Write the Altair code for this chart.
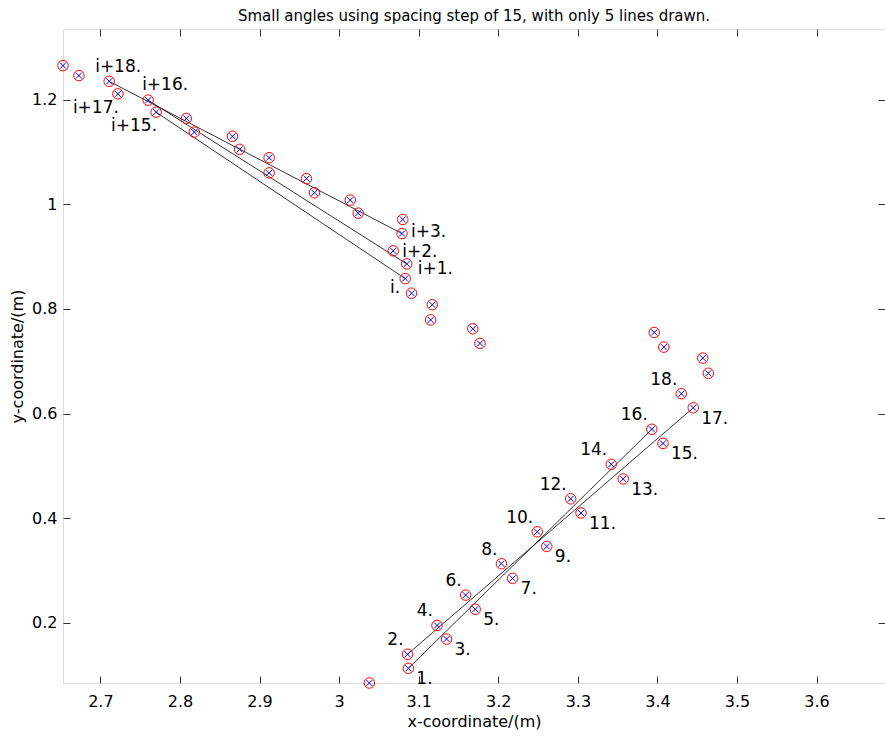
import altair as alt
import pandas as pd

# ---- data ----
px = [2.653, 2.673, 2.711, 2.722, 2.760, 2.770, 2.808, 2.818, 2.866, 2.875,
      2.912, 2.912, 2.959, 2.969, 3.014, 3.024, 3.080, 3.079, 3.068, 3.085,
      3.083, 3.091, 3.117, 3.115, 3.168, 3.177,
      3.038, 3.087, 3.086, 3.135, 3.123, 3.171, 3.159, 3.218, 3.204, 3.261,
      3.249, 3.304, 3.291, 3.357, 3.342, 3.407, 3.393, 3.445, 3.430,
      3.396, 3.408, 3.457, 3.464]
py = [1.265, 1.246, 1.235, 1.211, 1.199, 1.176, 1.164, 1.138, 1.130, 1.105,
      1.089, 1.060, 1.049, 1.022, 1.008, 0.983, 0.971, 0.944, 0.911, 0.886,
      0.858, 0.830, 0.808, 0.779, 0.762, 0.734,
      0.085, 0.113, 0.140, 0.169, 0.195, 0.226, 0.253, 0.285, 0.313, 0.346,
      0.374, 0.410, 0.437, 0.475, 0.503, 0.543, 0.570, 0.611, 0.638,
      0.755, 0.727, 0.706, 0.677]

seg_start = [2, 4, 5, 27, 28]
seg_end = [17, 19, 20, 42, 43]

label_text = ["i+18.", "i+17.", "i+16.", "i+15.", "i+3.", "i+2.", "i+1.", "i.",
              "1.", "2.", "3.", "4.", "5.", "6.", "7.", "8.", "9.",
              "10.", "11.", "12.", "13.", "14.", "15.", "16.", "17.", "18."]
label_point = [2, 3, 4, 5, 17, 18, 19, 20,
               27, 28, 29, 30, 31, 32, 33, 34, 35,
               36, 37, 38, 39, 40, 41, 42, 43, 44]
label_place = ["A", "C", "B", "C", "D", "D2", "E", "F",
               "H", "G", "H", "G", "H", "G", "H", "G", "H",
               "G", "H", "G", "H", "G", "H", "G", "H", "G"]

x_ticks = [2.7, 2.8, 2.9, 3.0, 3.1, 3.2, 3.3, 3.4, 3.5, 3.6]
y_ticks = [0.2, 0.4, 0.6, 0.8, 1.0, 1.2]
x_domain = [2.653, 3.686]
y_domain = [0.085, 1.335]

title_text = "Small angles using spacing step of 15, with only 5 lines drawn."
x_title = "x-coordinate/(m)"
y_title = "y-coordinate/(m)"

# ---- styles ----
FONT = "DejaVu Sans"
FRAME = "#333333"
PLACE = {
    "A": ("left", -14, -14),
    "B": ("left", -6, -15),
    "C": ("right", 1, 14),
    "D": ("left", 9, -2),
    "D2": ("left", 9, 1),
    "E": ("left", 11, 5),
    "F": ("right", -5, 9),
    "G": ("right", -4, -14),
    "H": ("left", 8, 11),
}

pts = pd.DataFrame({"x": px, "y": py})
seg_rows = []
for k, (a, b) in enumerate(zip(seg_start, seg_end)):
    seg_rows.append({"seg": k, "x": px[a], "y": py[a]})
    seg_rows.append({"seg": k, "x": px[b], "y": py[b]})
segs = pd.DataFrame(seg_rows)
labels = pd.DataFrame({
    "text": label_text,
    "x": [px[i] for i in label_point],
    "y": [py[i] for i in label_point],
    "place": label_place,
})

xs = alt.Scale(domain=x_domain, nice=False, zero=False)
ys = alt.Scale(domain=y_domain, nice=False, zero=False)

common_axis = dict(domain=False, grid=False, offset=-7, tickSize=7,
                   tickColor=FRAME, tickWidth=1,
                   labelFont=FONT, labelFontSize=16, labelColor="black",
                   titleFont=FONT, titleFontSize=16, titleFontWeight="normal",
                   titleColor="black")

x_axis_main = alt.Axis(orient="bottom", values=x_ticks, format="~g",
                       labelPadding=10, title=x_title, titlePadding=4,
                       **common_axis)
y_axis_main = alt.Axis(orient="left", values=y_ticks, format="~g",
                       labelPadding=6, title=y_title, titlePadding=6,
                       **common_axis)
x_axis_top = alt.Axis(orient="top", values=x_ticks, labels=False, title=None,
                      **common_axis)
y_axis_right = alt.Axis(orient="right", values=y_ticks, labels=False, title=None,
                        **common_axis)

lines = alt.Chart(segs).mark_line(color="black", strokeWidth=0.8).encode(
    x=alt.X("x:Q", scale=xs, axis=x_axis_main),
    y=alt.Y("y:Q", scale=ys, axis=y_axis_main),
    detail="seg:N",
)

circles = alt.Chart(pts).mark_point(shape="circle", filled=False, color="red",
                                    size=110, strokeWidth=1, opacity=1).encode(
    x=alt.X("x:Q", scale=xs, axis=x_axis_top),
    y=alt.Y("y:Q", scale=ys, axis=y_axis_right),
)

crosses = alt.Chart(pts).mark_point(shape="M-1,-1L1,1M-1,1L1,-1", filled=False,
                                    color="blue", size=36, strokeWidth=1,
                                    opacity=1).encode(
    x=alt.X("x:Q", scale=xs, axis=None),
    y=alt.Y("y:Q", scale=ys, axis=None),
)

text_layers = []
for code, (align, dx, dy) in PLACE.items():
    text_layers.append(
        alt.Chart(labels).transform_filter(alt.datum.place == code)
        .mark_text(align=align, baseline="middle", dx=dx, dy=dy, font=FONT,
                   fontSize=17, color="black")
        .encode(
            x=alt.X("x:Q", scale=xs, axis=None),
            y=alt.Y("y:Q", scale=ys, axis=None),
            text="text:N",
        )
    )

chart = alt.layer(lines, circles, crosses, *text_layers).resolve_axis(
    x="independent", y="independent"
).properties(
    width=822,
    height=654,
    autosize=alt.AutoSizeParams(type="none"),
    padding={"left": 63, "top": 29, "right": 0, "bottom": 57},
    title=alt.TitleParams(title_text, font=FONT, fontSize=15,
                          fontWeight="normal", color="black",
                          anchor="middle", frame="group", offset=5),
).configure_view(stroke=FRAME, strokeWidth=1).configure(background="white")

chart.save("out.html", embed_options={"renderer": "svg", "actions": False})
